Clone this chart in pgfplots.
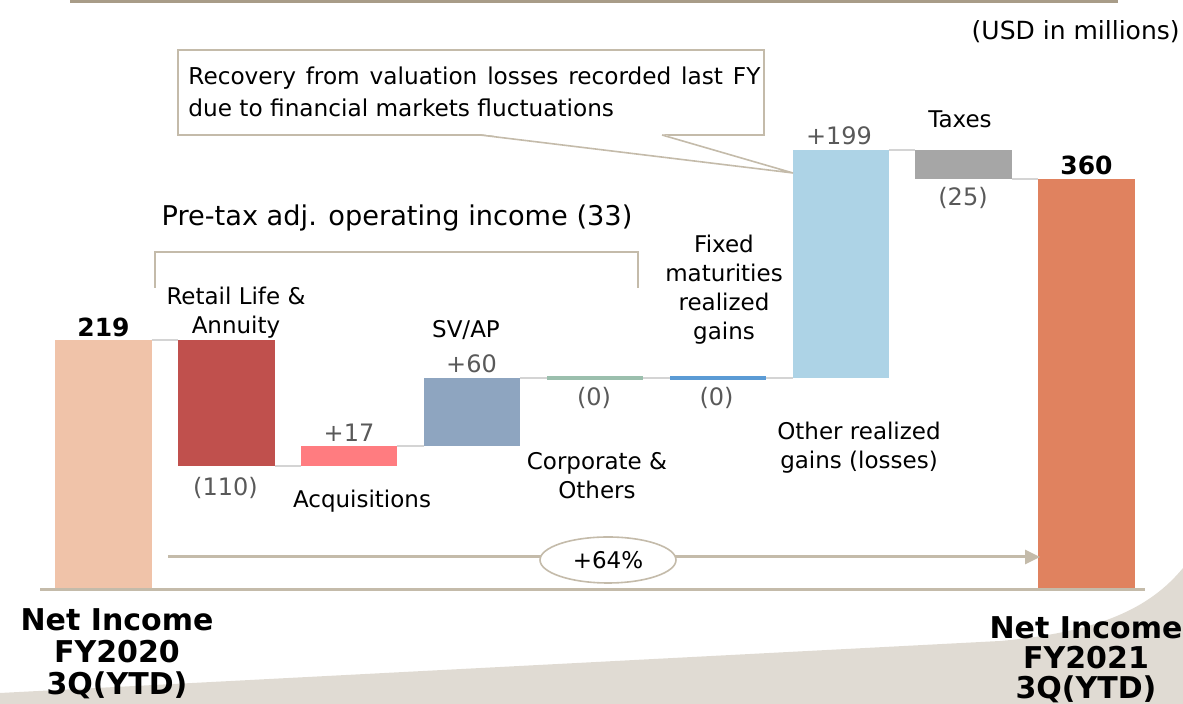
\documentclass[border=0pt]{standalone}
\usepackage{pgfplots}
\pgfplotsset{compat=1.18}
\usepackage{pgfplotstable}
\usepackage{fontspec}
\setmainfont{DejaVu Sans}
\usetikzlibrary{arrows.meta}
\definecolor{cA}{HTML}{F0C3A9}
\definecolor{cB}{HTML}{C0504D}
\definecolor{cC}{HTML}{FF7C80}
\definecolor{cD}{HTML}{8EA5C0}
\definecolor{cE}{HTML}{9BBFAD}
\definecolor{cF}{HTML}{5B9BD5}
\definecolor{cG}{HTML}{ADD3E6}
\definecolor{cH}{HTML}{A6A6A6}
\definecolor{cI}{HTML}{E0825F}
\definecolor{tan}{HTML}{C4BBAA}
\definecolor{tandark}{HTML}{A89C88}
\definecolor{bggray}{HTML}{E0DBD3}
\definecolor{conn}{HTML}{D4D4D4}
\definecolor{valgray}{HTML}{595959}
\pgfplotstableread{
x base a b c d e f g h i
0 0 219 0 0 0 0 0 0 0 0
1 109 0 110 0 0 0 0 0 0 0
2 109 0 0 17 0 0 0 0 0 0
3 126 0 0 0 60 0 0 0 0 0
4 184 0 0 0 0 3 0 0 0 0
5 184 0 0 0 0 0 3 0 0 0
6 186 0 0 0 0 0 0 199 0 0
7 360 0 0 0 0 0 0 0 25 0
8 0 0 0 0 0 0 0 0 0 360
}\data
\newcommand{\lab}{\fontsize{11.5pt}{14.5pt}\selectfont}
\newcommand{\val}{\fontsize{12pt}{14pt}\selectfont\color{valgray}}
\newcommand{\bval}{\fontsize{12.5pt}{14pt}\selectfont\bfseries}
\begin{document}
\begin{tikzpicture}
\useasboundingbox (0,0) rectangle (591.5pt,352pt);
\begin{scope}[x=0.5pt,y=-0.5pt,shift={(0pt,352pt)}]
\fill[bggray] (0,693) -- (1000,641) .. controls (1100,632) and (1150,608) .. (1183,568) -- (1183,704) -- (0,704) -- cycle;
\end{scope}
\begin{axis}[at={(21.03pt,57pt)}, anchor=south west, scale only axis,
  width=552.94pt, height=228.4pt, xmin=-0.5, xmax=8.5, ymin=0, ymax=400,
  hide axis, clip=false, ybar stacked, bar width=0.785]
\addplot[fill=none, draw=none] table[x=x,y=base]{\data};
\addplot[fill=cA, draw=none] table[x=x,y=a]{\data};
\addplot[fill=cB, draw=none] table[x=x,y=b]{\data};
\addplot[fill=cC, draw=none] table[x=x,y=c]{\data};
\addplot[fill=cD, draw=none] table[x=x,y=d]{\data};
\addplot[fill=cE, draw=none] table[x=x,y=e]{\data};
\addplot[fill=cF, draw=none] table[x=x,y=f]{\data};
\addplot[fill=cG, draw=none] table[x=x,y=g]{\data};
\addplot[fill=cH, draw=none] table[x=x,y=h]{\data};
\addplot[fill=cI, draw=none] table[x=x,y=i]{\data};
\draw[conn, line width=1pt] (axis cs:0.3925,219) -- (axis cs:0.6075,219);
\draw[conn, line width=1pt] (axis cs:1.3925,109) -- (axis cs:1.6075,109);
\draw[conn, line width=1pt] (axis cs:2.3925,126) -- (axis cs:2.6075,126);
\draw[conn, line width=1pt] (axis cs:3.3925,186) -- (axis cs:3.6075,186);
\draw[conn, line width=1pt] (axis cs:4.3925,186) -- (axis cs:4.6075,186);
\draw[conn, line width=1pt] (axis cs:5.3925,186) -- (axis cs:5.6075,186);
\draw[conn, line width=1pt] (axis cs:6.3925,385) -- (axis cs:6.6075,385);
\draw[conn, line width=1pt] (axis cs:7.3925,360) -- (axis cs:7.6075,360);
\end{axis}
\begin{scope}[x=0.5pt,y=-0.5pt,shift={(0pt,352pt)}]
% top rule
\draw[tandark, line width=1.5pt] (70,2) -- (1118,2);
\node[anchor=east, inner sep=0pt] at (1180,32) {\fontsize{12.5pt}{15pt}\selectfont (USD in millions)};
% baseline
\draw[tan, line width=1.5pt] (40,590) -- (1145,590);
% arrow and ellipse
\draw[tan, line width=1.5pt, -{Triangle[length=7.5pt,width=7pt]}] (168,557) -- (1040,557);
\draw[tan, line width=0.8pt, fill=white] (608,560) ellipse [x radius=68, y radius=23];
\node at (608,560) {\lab +64\%};
% callout
\draw[tan, line width=0.8pt, fill=white] (178,50) rectangle (764,135);
\fill[white] (480,134) -- (793,173) -- (662,134) -- cycle;
\draw[tan, line width=0.8pt] (480,135) -- (793,173) -- (662,135);
\node[anchor=west, inner sep=0pt] at (188,78) {\fontsize{11.6pt}{13pt}\selectfont\makebox[286pt][s]{Recovery from valuation losses recorded last FY}};
\node[anchor=west, inner sep=0pt] at (188,108) {\fontsize{11.6pt}{13pt}\selectfont due to financial markets fluctuations};
% bracket
\draw[tan, line width=0.8pt] (155,288) -- (155,252) -- (638,252) -- (638,288);
\node at (397,218) {\fontsize{13.6pt}{15pt}\selectfont Pre-tax adj. operating income (33)};
% category labels
\node[align=center, font=\lab] at (236,312.5) {Retail Life \&\\Annuity};
\node[font=\lab] at (362,501) {Acquisitions};
\node[font=\lab] at (466,330) {SV/AP};
\node[align=center, font=\lab] at (597,475.5) {Corporate \&\\Others};
\node[align=center, font=\lab] at (724,289.5) {Fixed\\maturities\\realized\\gains};
\node[align=center, font=\lab] at (859,447.5) {Other realized\\gains (losses)};
\node[font=\lab] at (960,119) {Taxes};
% values
\node at (103.5,327) {\bval 219};
\node at (225.5,488) {\val (110)};
\node at (349,433) {\val +17};
\node at (471.5,364) {\val +60};
\node at (594,398) {\val (0)};
\node at (716.5,398) {\val (0)};
\node at (839,136) {\val +199};
\node at (963,198) {\val (25)};
\node at (1086.5,165) {\bval 360};
% bottom labels
\node[align=center, font=\fontsize{15pt}{16pt}\selectfont\bfseries] at (117,654) {Net Income\\FY2020\\3Q(YTD)};
\node[align=center, font=\fontsize{15pt}{15pt}\selectfont\bfseries] at (1086,660) {Net Income\\FY2021\\3Q(YTD)};
\end{scope}
\end{tikzpicture}
\end{document}
